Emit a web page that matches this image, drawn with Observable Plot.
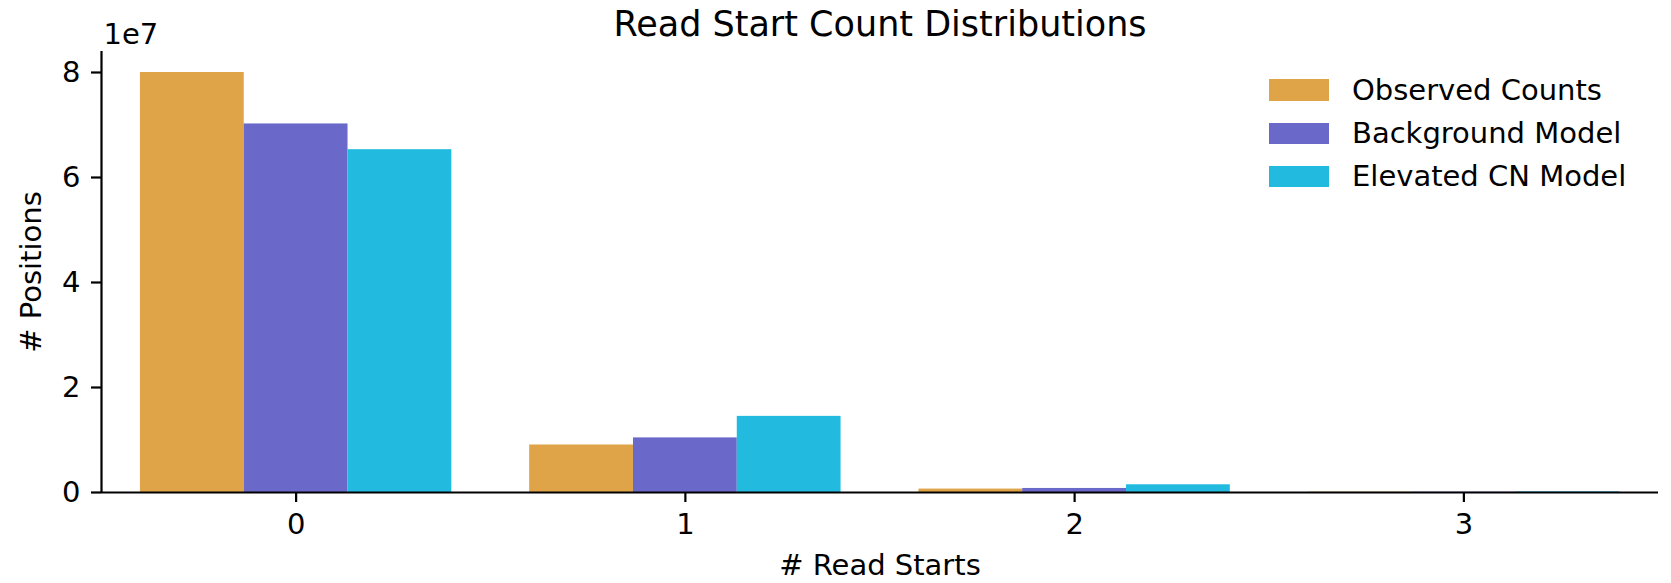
<!DOCTYPE html>
<html>
<head>
<meta charset="utf-8">
<script src="https://cdn.jsdelivr.net/npm/d3@7"></script>
<script src="https://cdn.jsdelivr.net/npm/@observablehq/plot@0.6"></script>
<style>
  html, body { margin: 0; padding: 0; background: #fff; overflow: hidden; }
  #wrap { position: relative; width: 1671px; height: 583px; font-family: "DejaVu Sans", sans-serif; }
  .leg-row { position: absolute; left: 1269px; height: 22px; }
  .leg-sw { position: absolute; left: 0; top: 0; width: 60px; height: 21.5px; }
  .leg-tx { position: absolute; left: 83px; top: -5.5px; font-size: 29px; line-height: 33.8px; color: #000; white-space: nowrap; }
</style>
</head>
<body>
<div id="wrap"></div>
<script>
// ---- data ----
const categories = [0, 1, 2, 3];
const seriesNames = ["Observed Counts", "Background Model", "Elevated CN Model"];
const seriesColors = ["#E0A448", "#6A68C8", "#22BBDF"];
const observedCounts = [8.0e7, 0.905e7, 0.065e7, 0.006e7];
const backgroundModel = [7.02e7, 1.04e7, 0.077e7, 0.006e7];
const elevatedCNModel = [6.53e7, 1.45e7, 0.147e7, 0.012e7];
const yTicks = [0, 2e7, 4e7, 6e7, 8e7];
const xTicks = [0, 1, 2, 3];
const titleText = "Read Start Count Distributions";
const xLabel = "# Read Starts";
const yLabel = "# Positions";
const offsetText = "1e7";

// ---- build table ----
const seriesValues = [observedCounts, backgroundModel, elevatedCNModel];
const rows = [];
seriesValues.forEach((vals, si) => {
  categories.forEach((c, ci) => rows.push({cat: c, si, series: seriesNames[si], value: vals[ci]}));
});
const groupWidth = 0.8;
const barW = groupWidth / seriesNames.length;
const xDomain = [-0.5, 3.5];
const yDomain = [0, 8.4e7];

const font = "DejaVu Sans";
const chart = Plot.plot({
  width: 1671,
  height: 583,
  marginLeft: 101,
  marginRight: 13,
  marginTop: 51,
  marginBottom: 91,
  style: {fontFamily: font, background: "#fff", color: "#000", overflow: "visible"},
  x: {type: "linear", domain: xDomain},
  y: {type: "linear", domain: yDomain},
  color: {domain: seriesNames, range: seriesColors},
  marks: [
    Plot.rectY(rows, {
      x1: d => d.cat - groupWidth / 2 + d.si * barW,
      x2: d => d.cat - groupWidth / 2 + (d.si + 1) * barW,
      y1: 0,
      y2: "value",
      fill: "series"
    }),
    Plot.axisX({ticks: xTicks, tickFormat: d => String(d), tickSize: 10, tickPadding: 11, fontSize: 29, strokeWidth: 2.2, label: null}),
    Plot.axisY({ticks: yTicks, tickFormat: d => String(d / 1e7), tickSize: 10, tickPadding: 11, fontSize: 29, strokeWidth: 2.2, label: null}),
    Plot.ruleY([0], {stroke: "#000", strokeWidth: 2.2}),
    Plot.ruleX([xDomain[0]], {stroke: "#000", strokeWidth: 2.2}),
    Plot.text([titleText], {text: d => d, frameAnchor: "top", lineAnchor: "bottom", dy: -16, fontSize: 35, fill: "#000"}),
    Plot.text([offsetText], {text: d => d, frameAnchor: "top-left", textAnchor: "start", lineAnchor: "bottom", dx: 2, dy: -8, fontSize: 29, fill: "#000"}),
    Plot.text([xLabel], {text: d => d, frameAnchor: "bottom", lineAnchor: "bottom", dy: 82, fontSize: 29, fill: "#000"}),
    Plot.text([yLabel], {text: d => d, frameAnchor: "left", rotate: -90, textAnchor: "middle", lineAnchor: "top", dx: -81, fontSize: 29, fill: "#000"})
  ]
});
const wrap = document.getElementById("wrap");
wrap.appendChild(chart);

// legend (HTML, positioned top-right over the plot)
seriesNames.forEach((name, i) => {
  const row = document.createElement("div");
  row.className = "leg-row";
  row.style.top = (79.3 + i * 43.3) + "px";
  const sw = document.createElement("span");
  sw.className = "leg-sw";
  sw.style.background = seriesColors[i];
  const tx = document.createElement("span");
  tx.className = "leg-tx";
  tx.textContent = name;
  row.appendChild(sw);
  row.appendChild(tx);
  wrap.appendChild(row);
});
</script>
</body>
</html>
